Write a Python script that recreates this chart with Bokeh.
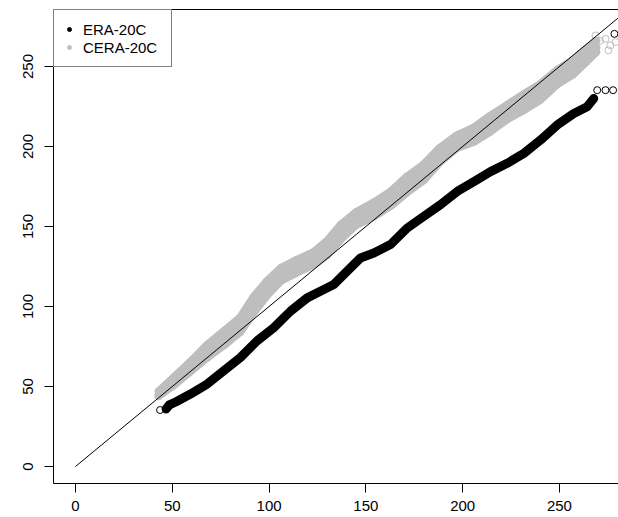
from bokeh.plotting import figure
from bokeh.models import (Range1d, FixedTicker, LinearAxis, Legend, LegendItem,
                          ColumnDataSource)
from bokeh.embed import file_html
from bokeh.resources import INLINE

# ---- data (quantile-quantile pairs) ----
era_x = [46.8, 48.5, 52.0, 59.4, 68.0, 76.6, 85.2, 93.8, 102.4, 111.1, 119.7,
         128.3, 133.4, 140.3, 147.2, 154.1, 162.7, 171.3, 179.9, 188.5, 197.2,
         205.8, 214.4, 223.0, 231.6, 240.2, 248.8, 257.4, 264.3, 267.7]
era_y = [35.9, 38.5, 40.5, 45.3, 51.5, 59.8, 68.1, 78.5, 86.7, 97.1, 105.4,
         110.6, 113.8, 122.0, 130.3, 133.4, 138.7, 149.0, 156.3, 163.6, 171.9,
         178.1, 184.3, 189.5, 195.7, 204.0, 213.4, 220.6, 224.8, 230.0]
era_tail_x = [43.7, 269.5, 273.8, 277.7, 278.4]
era_tail_y = [35.3, 235.2, 235.2, 235.2, 270.4]

cera_x = [43, 51, 59, 68, 77, 85, 92, 99, 106, 114, 123, 130, 137, 145, 154,
          163, 171, 180, 188, 197, 206, 214, 223, 232, 240, 249, 257, 264, 269]
cera_hi = [47, 56, 65, 76, 85, 93, 106, 116, 124, 129, 134, 141, 151, 159, 165,
           172, 181, 189, 199, 207, 212, 219, 226, 233, 239, 248, 254, 261, 266]
cera_mid = [45, 53, 62, 72, 80, 88, 101, 112, 120, 125, 130, 136, 147, 155, 160,
            167, 176, 184, 195, 203, 207, 214, 222, 228, 234, 243, 250, 257, 262]
cera_lo = [44, 51, 59, 68, 76, 84, 96, 107, 116, 121, 126, 132, 142, 151, 156,
           163, 171, 179, 190, 199, 203, 209, 217, 223, 229, 239, 245, 253, 259]
cera_tail_x = [268.6, 271.0, 273.8, 275.3, 276.3, 279.0]
cera_tail_y = [269.4, 266.0, 267.3, 260.1, 263.2, 265.3]

diag_x = [0, 300]
diag_y = [0, 300]

x_ticks = [0, 50, 100, 150, 200, 250]
y_ticks = [0, 50, 100, 150, 200, 250]
labels = ["ERA-20C", "CERA-20C"]
GREY = "#BEBEBE"
FONT = "Liberation Sans"

p = figure(frame_width=565, frame_height=474,
           x_range=Range1d(-11.36, 280.5), y_range=Range1d(-10.625, 285.625),
           output_backend="svg", toolbar_location=None,
           x_axis_type=None, y_axis_type=None,
           min_border_left=53, min_border_right=0, min_border_top=9,
           min_border_bottom=34)
p.outline_line_color = None
p.background_fill_color = "white"
p.border_fill_color = "white"


def style_axis(ax, ticks):
    ax.ticker = FixedTicker(ticks=ticks)
    ax.minor_tick_line_color = None
    ax.major_tick_out = 9
    ax.major_tick_in = 0
    ax.axis_line_color = "black"
    ax.major_tick_line_color = "black"
    ax.major_label_text_font = FONT
    ax.major_label_text_font_size = "15px"
    ax.major_label_text_color = "black"


xa = LinearAxis()
style_axis(xa, x_ticks)
xa.major_label_standoff = 8
p.add_layout(xa, "below")

ya = LinearAxis()
style_axis(ya, y_ticks)
ya.major_label_orientation = "vertical"
ya.major_label_standoff = 12
p.add_layout(ya, "left")

ta = LinearAxis(ticker=FixedTicker(ticks=[]), major_tick_out=0, major_tick_in=0,
                minor_tick_out=0, minor_tick_in=0, major_label_standoff=0,
                axis_line_color="black")
p.add_layout(ta, "above")

# CERA-20C (grey, ensemble band)
for ys in (cera_lo, cera_mid, cera_hi):
    p.line(cera_x, ys, line_color=GREY, line_width=8, line_join="round",
           line_cap="round")
    p.scatter(cera_x, ys, marker="circle", size=7, fill_color=None,
              line_color=GREY, line_width=1)
p.scatter(cera_tail_x, cera_tail_y, marker="circle", size=7, fill_color=None,
          line_color=GREY, line_width=1)

# ERA-20C (black)
p.line(era_x, era_y, line_color="black", line_width=9, line_join="round",
       line_cap="round")
p.scatter(era_tail_x, era_tail_y, marker="circle", size=7, fill_color=None,
          line_color="black", line_width=1)

# 1:1 line
p.line(diag_x, diag_y, line_color="black", line_width=1)

# legend with filled dots
dummy = ColumnDataSource(data=dict(x=[float("nan")], y=[float("nan")]))
l1 = p.scatter("x", "y", source=dummy, marker="circle", size=6,
               fill_color="black", line_color="black")
l2 = p.scatter("x", "y", source=dummy, marker="circle", size=6,
               fill_color=GREY, line_color=GREY)
legend = Legend(items=[LegendItem(label=labels[0], renderers=[l1]),
                       LegendItem(label=labels[1], renderers=[l2])],
                location="top_left", margin=0, padding=10, spacing=0,
                glyph_width=10, glyph_height=18, label_height=18,
                label_standoff=9, label_width=78,
                label_text_font=FONT, label_text_font_size="15px",
                label_text_color="black",
                border_line_color="black", border_line_width=1,
                background_fill_color="white", background_fill_alpha=1)
p.add_layout(legend)

open("out.html", "w").write(file_html(p, INLINE))
